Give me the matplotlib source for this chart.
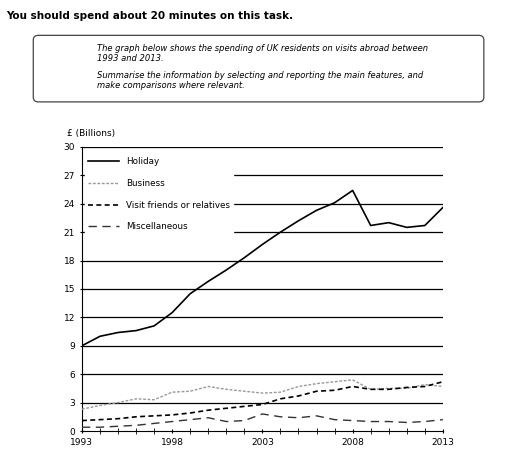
import matplotlib
matplotlib.use("Agg")
import matplotlib.pyplot as plt
from matplotlib.patches import FancyBboxPatch

years = list(range(1993, 2014))
holiday = [9, 10, 10.4, 10.6, 11.1, 12.5, 14.5, 15.8, 17.0, 18.3, 19.7, 21.0, 22.2, 23.3, 24.1, 25.4, 21.7, 22.0, 21.5, 21.7, 23.6]
business = [2.3, 2.7, 3.0, 3.4, 3.3, 4.1, 4.2, 4.7, 4.4, 4.2, 4.0, 4.1, 4.7, 5.0, 5.2, 5.4, 4.4, 4.5, 4.5, 4.9, 4.7]
vfr = [1.1, 1.2, 1.3, 1.5, 1.6, 1.7, 1.9, 2.2, 2.4, 2.6, 2.8, 3.4, 3.7, 4.2, 4.3, 4.7, 4.4, 4.4, 4.6, 4.7, 5.2]
misc = [0.4, 0.4, 0.5, 0.6, 0.8, 1.0, 1.2, 1.4, 1.0, 1.1, 1.8, 1.5, 1.4, 1.6, 1.2, 1.1, 1.0, 1.0, 0.9, 1.0, 1.2]
yticks = [0, 3, 6, 9, 12, 15, 18, 21, 24, 27, 30]
xticks = [1993, 1998, 2003, 2008, 2013]

fig = plt.figure(figsize=(5.12, 4.59), dpi=100)
fig.text(0.012, 0.975, "You should spend about 20 minutes on this task.", fontsize=7.5,
         fontweight="bold", va="top")
box = FancyBboxPatch((0.065, 0.778), 0.88, 0.145, boxstyle="round,pad=0,rounding_size=0.01",
                     transform=fig.transFigure, fill=False, edgecolor="#444", lw=0.9)
fig.patches.append(box)
fig.text(0.19, 0.905, "The graph below shows the spending of UK residents on visits abroad between\n1993 and 2013.",
         fontsize=6.0, style="italic", va="top", linespacing=1.15)
fig.text(0.19, 0.845, "Summarise the information by selecting and reporting the main features, and\nmake comparisons where relevant.",
         fontsize=6.0, style="italic", va="top", linespacing=1.15)

ax = fig.add_axes([0.160, 0.061, 0.705, 0.619])
for y in yticks[1:]:
    ax.axhline(y, color="black", lw=0.9, zorder=1)
ax.plot(years, holiday, color="black", lw=1.2, label="Holiday", zorder=3)
ax.plot(years, business, color="#999999", lw=1.0, ls=(0, (2, 1.2)), label="Business", zorder=3)
ax.plot(years, vfr, color="black", lw=1.2, ls=(0, (3, 2)), label="Visit friends or relatives", zorder=3)
ax.plot(years, misc, color="#333333", lw=1.0, ls=(0, (6, 4)), label="Miscellaneous", zorder=3)
ax.set_xlim(1993, 2013)
ax.set_ylim(0, 30)
ax.set_yticks(yticks)
ax.set_xticks(xticks)
ax.set_xticks(years, minor=True)
ax.tick_params(labelsize=6.5, length=3, direction="inout")
ax.tick_params(axis="x", which="minor", length=4, direction="inout")
for s in ["top", "right"]:
    ax.spines[s].set_visible(False)
ax.text(-0.04, 1.03, "£ (Billions)", transform=ax.transAxes, fontsize=6.5, va="bottom")
leg = ax.legend(loc="upper left", bbox_to_anchor=(0.0, 0.985), fontsize=6.3, frameon=True,
                framealpha=1, edgecolor="white", handlelength=3.5, labelspacing=1.45,
                borderaxespad=0.3)
leg.set_zorder(4)
fig.savefig("out.png", dpi=100)
